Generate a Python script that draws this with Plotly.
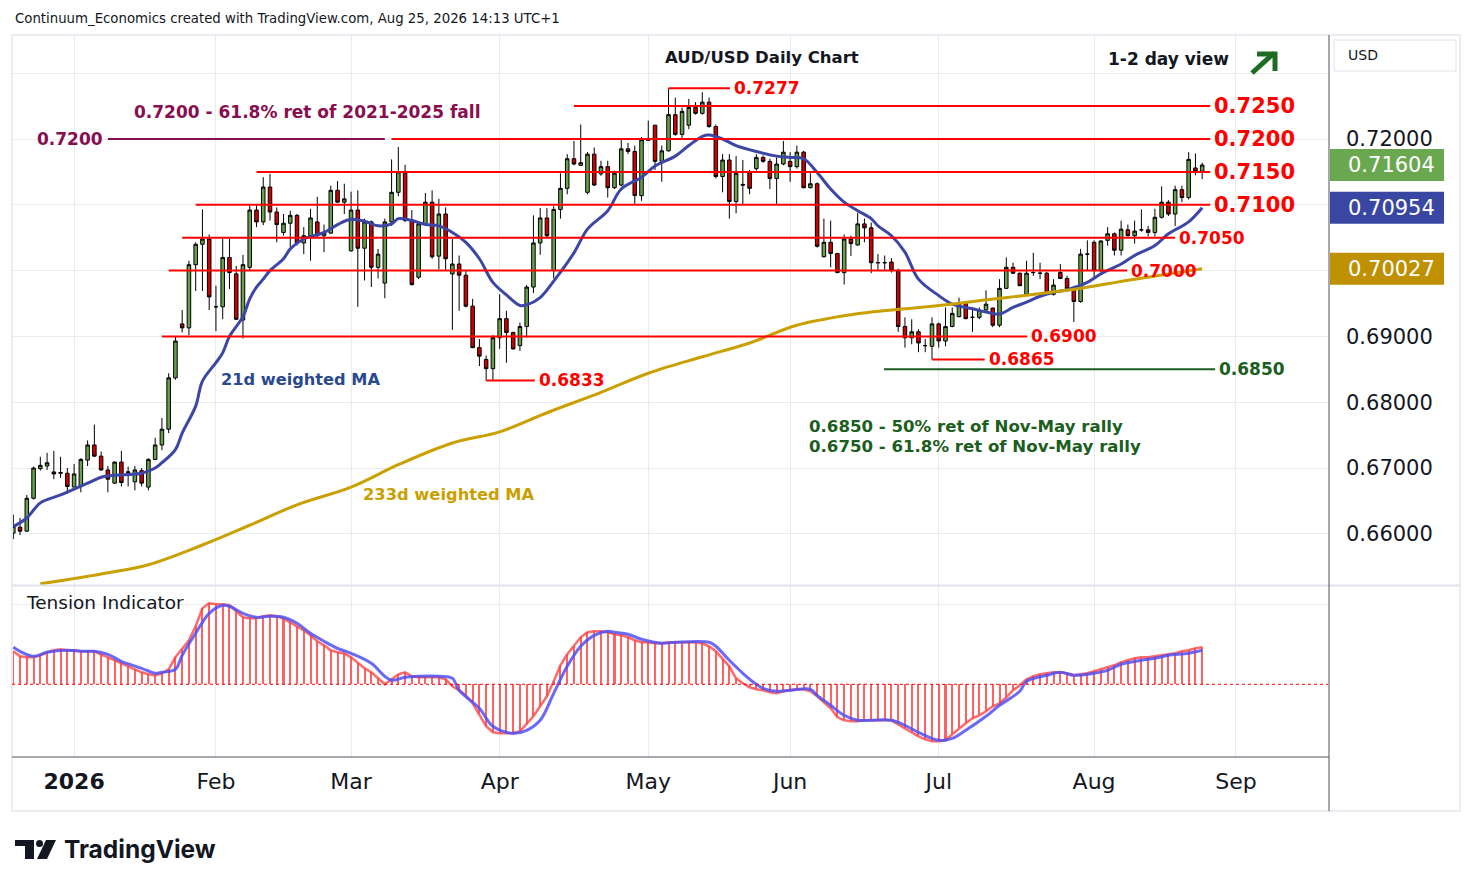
import numpy as np
import pandas as pd
import plotly.graph_objects as go

# page has an 8px body margin; figure is sized to fit the window
OFF = 8
W, H = 1474 - 2 * OFF, 887 - 2 * OFF

# ---------------- data ----------------
holidays = ["2025-12-25", "2026-01-01"]
all_days = [d for d in pd.bdate_range("2025-12-18", "2026-09-30") if d.strftime("%Y-%m-%d") not in holidays]
dates = [d for d in all_days if d <= pd.Timestamp("2026-08-25")]

open_ = [.6601,.6610,.6604,.6654,.6699,.6703,.6694,.6692,.6692,.6671,
         .6672,.6712,.6735,.6718,.6697,.6677,.6709,.6693,.6679,.6696,
         .6671,.6713,.6735,.6759,.6837,.6919,.6913,.7009,.7040,.7048,
         .6945,.6945,.7020,.6995,.6925,.7005,.7092,.7074,.7127,.7089,
         .7058,.7072,.7084,.7042,.7053,.7074,.7053,.7057,.7122,.7104,
         .7030,.7092,.7034,.7074,.7005,.6981,.7074,.7119,.7150,.7077,
         .6990,.7071,.7104,.7022,.7086,.6995,.7010,.6993,.6946,.6883,
         .6865,.6851,.6898,.6927,.6906,.6886,.6915,.6975,.7042,.7080,
         .7000,.7093,.7125,.7170,.7160,.7119,.7177,.7147,.7158,.7126,
         .7130,.7185,.7181,.7114,.7198,.7221,.7166,.7182,.7237,.7207,
         .7221,.7248,.7239,.7256,.7219,.7143,.7168,.7105,.7131,.7149,
         .7155,.7172,.7166,.7140,.7162,.7166,.7158,.7180,.7126,.7132,
         .7021,.7043,.7026,.6997,.7048,.7039,.7071,.7065,.7012,.7012,
         .7013,.7000,.6915,.6898,.6907,.6886,.6885,.6919,.6893,.6915,
         .6930,.6950,.6929,.6929,.6940,.6943,.6917,.6973,.7005,.6996,
         .6964,.6997,.6996,.6996,.6964,.6997,.6988,.6973,.6953,.7025,
         .7043,.7000,.7046,.7056,.7031,.7062,.7053,.7062,.7062,.7058,
         .7081,.7104,.7086,.7123,.7111,.7156,.7151]
high = [.6629,.6624,.6659,.6702,.6717,.6723,.6726,.6717,.6700,.6706,
        .6715,.6742,.6766,.6725,.6703,.6710,.6726,.6702,.6703,.6700,
        .6715,.6746,.6776,.6844,.6899,.6940,.7015,.7043,.7093,.7055,
        .6977,.7048,.7048,.7007,.7024,.7099,.7099,.7142,.7147,.7096,
        .7086,.7091,.7086,.7066,.7094,.7112,.7070,.7129,.7136,.7132,
        .7120,.7122,.7079,.7076,.7033,.7079,.7169,.7188,.7161,.7092,
        .7074,.7118,.7122,.7109,.7096,.7048,.7023,.7000,.6957,.6896,
        .6871,.6902,.6964,.6939,.6907,.6921,.6978,.7084,.7095,.7095,
        .7098,.7148,.7177,.7197,.7222,.7180,.7187,.7167,.7167,.7152,
        .7199,.7194,.7190,.7203,.7228,.7221,.7190,.7277,.7263,.7248,
        .7261,.7256,.7271,.7263,.7222,.7177,.7177,.7174,.7168,.7153,
        .7177,.7175,.7170,.7172,.7197,.7180,.7190,.7182,.7148,.7134,
        .7079,.7076,.7027,.7055,.7053,.7088,.7079,.7073,.7025,.7023,
        .7019,.7003,.6929,.6926,.6911,.6896,.6929,.6921,.6944,.6944,
        .6959,.6954,.6944,.6944,.6970,.6944,.6987,.7020,.7012,.6997,
        .7015,.7027,.7012,.6998,.6987,.7010,.6992,.6977,.7033,.7046,
        .7046,.7046,.7066,.7058,.7076,.7070,.7076,.7093,.7068,.7094,
        .7128,.7107,.7129,.7129,.7180,.7178,.7164]
low = [.6592,.6598,.6603,.6652,.6696,.6697,.6683,.6685,.6661,.6671,
       .6663,.6703,.6717,.6696,.6663,.6676,.6672,.6672,.6666,.6672,
       .6666,.6712,.6727,.6753,.6834,.6906,.6902,.6969,.6969,.6940,
       .6908,.6926,.6972,.6925,.6897,.7000,.7066,.7069,.7076,.7043,
       .7053,.7036,.7038,.7025,.7015,.7051,.7028,.7056,.7103,.7086,
       .7029,.6945,.6985,.6975,.6988,.6958,.7068,.7113,.7074,.6977,
       .6987,.7068,.7018,.7002,.7000,.6910,.6939,.6944,.6882,.6855,
       .6833,.6834,.6881,.6860,.6880,.6878,.6898,.6966,.7024,.7051,
       .6988,.7079,.7116,.7160,.7159,.7116,.7129,.7144,.7111,.7124,
       .7128,.7177,.7101,.7106,.7197,.7153,.7135,.7181,.7205,.7201,
       .7215,.7237,.7237,.7217,.7140,.7119,.7079,.7087,.7101,.7116,
       .7152,.7164,.7124,.7101,.7160,.7135,.7155,.7125,.7125,.7035,
       .7020,.7005,.6996,.6979,.7022,.7038,.7043,.6996,.7000,.7000,
       .6997,.6907,.6883,.6888,.6876,.6876,.6865,.6883,.6885,.6914,
       .6929,.6926,.6907,.6926,.6939,.6914,.6914,.6972,.6995,.6977,
       .6963,.6992,.6987,.6963,.6962,.6987,.6968,.6922,.6951,.7000,
       .6987,.6997,.7038,.7023,.7023,.7052,.7041,.7059,.7052,.7052,
       .7079,.7083,.7068,.7104,.7108,.7145,.7139]
close = [.6611,.6604,.6654,.6700,.6704,.6708,.6691,.6693,.6672,.6691,
         .6713,.6735,.6718,.6697,.6683,.6709,.6678,.6694,.6697,.6677,
         .6713,.6735,.6759,.6837,.6893,.6913,.7009,.7040,.7048,.6960,
         .6945,.7020,.6997,.6926,.7009,.7092,.7074,.7127,.7089,.7070,
         .7072,.7084,.7042,.7053,.7080,.7053,.7057,.7122,.7104,.7109,
         .7092,.7034,.7074,.7005,.7025,.7074,.7119,.7150,.7076,.6979,
         .7071,.7104,.7021,.7086,.7018,.7010,.6993,.6946,.6883,.6870,
         .6851,.6898,.6927,.6906,.6881,.6915,.6975,.7042,.7080,.7053,
         .7093,.7125,.7170,.7162,.7164,.7177,.7130,.7158,.7126,.7148,
         .7185,.7181,.7114,.7199,.7199,.7166,.7182,.7237,.7207,.7242,
         .7248,.7239,.7256,.7219,.7143,.7168,.7105,.7148,.7130,.7125,
         .7172,.7166,.7140,.7162,.7180,.7158,.7180,.7126,.7132,.7037,
         .7043,.7026,.6997,.7048,.7041,.7071,.7065,.7012,.7012,.7012,
         .7000,.6915,.6898,.6907,.6890,.6886,.6919,.6893,.6915,.6935,
         .6950,.6927,.6929,.6940,.6949,.6917,.6973,.7005,.6996,.6977,
         .6996,.6997,.6996,.6964,.6978,.6988,.6973,.6953,.7025,.7025,
         .7000,.7045,.7056,.7031,.7063,.7053,.7060,.7062,.7058,.7081,
         .7104,.7086,.7123,.7111,.7169,.7151,.71604]

# 21d weighted MA (bar index, value)
ma21_idx = [0,2,4,7,9,11,13,14,17,19,21,22,24,25,27,28,30,31,32,34,35,36,37,38,40,41,43,46,48,50,
            52,54,56,57,59,61,63,65,67,69,71,73,75,76,78,80,83,85,88,90,93,95,98,100,102,103,105,107,
            110,113,115,117,119,121,123,125,127,128,130,132,134,137,139,142,144,146,148,150,152,154,
            156,159,161,164,166,169,171,174,176]
ma21_val = [.6611,.6624,.6647,.6659,.6668,.6677,.6686,.6688,.6690,.6692,.6700,.6708,.6728,.6753,.6794,
            .6832,.6860,.6875,.6900,.6930,.6957,.6975,.6987,.7000,.7018,.7033,.7048,.7058,.7070,.7078,
            .7075,.7068,.7071,.7079,.7076,.7070,.7068,.7058,.7043,.7018,.6982,.6963,.6947,.6948,.6959,
            .6984,.7027,.7063,.7091,.7124,.7142,.7159,.7174,.7190,.7204,.7206,.7200,.7190,.7181,.7174,
            .7172,.7170,.7149,.7124,.7104,.7091,.7079,.7068,.7053,.7028,.6987,.6962,.6949,.6942,.6937,
            .6934,.6944,.6952,.6961,.6967,.6971,.6982,.6995,.7010,.7023,.7038,.7056,.7074,.70954]

# 233d weighted MA
ma233_idx = [4,13,20,28,35,42,50,57,65,72,79,87,94,102,109,116,124,127,137,146,156,166,176]
ma233_val = [.6524,.6539,.6553,.6583,.6613,.6644,.6671,.6705,.6738,.6755,.6784,.6815,.6844,.6869,
             .6890,.6917,.6933,.6937,.6947,.6958,.6970,.6987,.70027]

# Tension indicator (per bar) and its signal line
tension = [33,28,27,27,29,32,34,35,34,34,
           33,33,33,30,27,24,21,18,15,12,
           10,9,11,15,27,35,44,58,76,81,
           80,80,79,73,67,66,66,68,69,68,
           66,62,58,54,49,43,39,34,32,31,
           27,21,16,12,6,0,5,10,12,8,
           7,7,7,7,5,-2,-6,-11,-19,-30,
           -42,-48,-49,-49,-49,-47,-40,-32,-22,-12,
           3,19,30,38,47,52,53,53,52,50,
           49,47,44,42,42,41,41,42,42,42,
           42,42,41,38,33,25,18,6,1,-3,
           -5,-6,-8,-9,-7,-6,-5,-5,-7,-12,
           -18,-24,-33,-36,-37,-37,-36,-36,-36,-36,
           -36,-40,-44,-48,-52,-55,-57,-57,-56,-50,
           -44,-39,-34,-31,-27,-22,-19,-13,-6,-1,
           5,8,10,11,12,12,11,9,10,11,
           13,15,17,19,22,24,26,27,27,28,
           29,30,31,33,34,36,37]
sig_idx = [0,1,3,5,8,10,12,14,16,19,21,22,24,25,27,29,31,32,34,36,38,40,42,44,46,48,50,53,55,56,58,
           60,63,65,66,69,71,74,76,78,80,82,84,86,88,89,91,93,96,98,103,104,106,108,110,111,113,115,
           118,119,121,123,125,127,130,132,134,137,139,141,144,146,149,150,153,155,157,160,162,164,
           167,169,171,174,176]
sig_val = [37,33,28,32,34,33,33,30,23,16,11,12,15,29,51,71,79,78,71,67,68,67,61,51,43,36,31,21,8,4,7,
           8,8,6,-6,-24,-42,-49,-46,-36,-9,18,38,49,53,52,50,45,41,42,42,38,24,11,0,-4,-7,-6,
           -5,-11,-21,-31,-36,-36,-36,-41,-48,-56,-54,-46,-32,-21,-7,3,9,12,9,11,14,20,
           24,26,29,31,34]

# horizontal levels
lvl_val   = [0.7277, 0.7250, 0.7200, 0.7150, 0.7100, 0.7050, 0.7000, 0.6900, 0.6865, 0.6833]
lvl_start = [97, 83, 56, 36, 27, 25, 23, 22, 136, 70]
lvl_end   = [106.1, 177.2, 177.2, 177.2, 177.2, 172.0, 164.9, 150.1, 143.8, 77.2]
lvl_big   = [False, True, True, True, True, False, False, False, False, False]

y_ticks = [0.66, 0.67, 0.68, 0.69, 0.70, 0.71, 0.72, 0.73]
y_text = ["0.66000", "0.67000", "0.68000", "0.69000", "", "", "0.72000", ""]

month_names = ["<b>2026</b>", "Feb", "Mar", "Apr", "May", "Jun", "Jul", "Aug", "Sep"]

# ---------------- helpers ----------------
def X(px):
    return (px - OFF) / W

def Y(py):
    return 1 - (py - OFF) / H

idx = list(range(len(close)))
month_idx = []
for m in range(1, 10):
    for k, d in enumerate(all_days):
        if d.year == 2026 and d.month == m:
            month_idx.append(k)
            break

RED = "#ff0000"
GREEN_C = "#68a04c"
RED_C = "#cc0000"
BLUE = "#3c46a6"
GOLD = "#c9a000"
PURPLE = "#880e4f"
DKGREEN = "#1b5e20"
GRID = "#e6ecf2"
FONT = "DejaVu Sans"

fig = go.Figure()
fig.add_trace(go.Candlestick(
    x=idx, open=open_, high=high, low=low, close=close,
    increasing=dict(fillcolor=GREEN_C, line=dict(color="#000000", width=1)),
    decreasing=dict(fillcolor=RED_C, line=dict(color="#000000", width=1)),
    whiskerwidth=0, xaxis="x", yaxis="y", showlegend=False, hoverinfo="skip"))
fig.add_trace(go.Scatter(x=ma21_idx, y=ma21_val, mode="lines",
                         line=dict(color=BLUE, width=3, shape="spline"), xaxis="x", yaxis="y", hoverinfo="skip"))
fig.add_trace(go.Scatter(x=ma233_idx, y=ma233_val, mode="lines",
                         line=dict(color=GOLD, width=3, shape="spline"), xaxis="x", yaxis="y", hoverinfo="skip"))

fig.add_trace(go.Bar(x=idx, y=tension, width=0.3, marker=dict(color="rgba(255,70,70,0.85)", line=dict(width=0)),
                     xaxis="x2", yaxis="y2", hoverinfo="skip"))
fig.add_trace(go.Scatter(x=idx, y=tension, mode="lines", line=dict(color="rgba(255,70,70,0.8)", width=2.5),
                         xaxis="x2", yaxis="y2", hoverinfo="skip"))
fig.add_trace(go.Scatter(x=sig_idx, y=sig_val, mode="lines", line=dict(color="rgba(80,80,245,0.85)", width=3, shape="spline"),
                         xaxis="x2", yaxis="y2", hoverinfo="skip"))

y_lo = 0.72 - (585 - 139) / 6580
y_hi = 0.72 + (139 - 35) / 6580
t_hi = 684.3 - 586
t_lo = 684.3 - 757
x_lo = (12 - 13.3) / 6.755
x_hi = (1328 - 13.3) / 6.755

shapes = []
annotations = []

# level lines and labels
for v, s, e, big in zip(lvl_val, lvl_start, lvl_end, lvl_big):
    shapes.append(dict(type="line", xref="x", yref="y", x0=s, x1=e, y0=v, y1=v,
                       line=dict(color=RED, width=2)))
    annotations.append(dict(xref="x", yref="y", x=e + 0.3, y=v, text="<b>%.4f</b>" % v, showarrow=False,
                            xanchor="left", yanchor="middle",
                            font=dict(family=FONT, size=21 if big else 17, color=RED)))
# purple 0.7200
shapes.append(dict(type="line", xref="x", yref="y", x0=14, x1=55, y0=0.72, y1=0.72, line=dict(color=PURPLE, width=2)))
annotations.append(dict(xref="x", yref="y", x=13.6, y=0.72, text="<b>0.7200</b>", showarrow=False,
                        xanchor="right", yanchor="middle", font=dict(family=FONT, size=17, color=PURPLE)))
# green 0.6850
shapes.append(dict(type="line", xref="x", yref="y", x0=128.9, x1=177.9, y0=0.685, y1=0.685, line=dict(color=DKGREEN, width=2)))
annotations.append(dict(xref="x", yref="y", x=178.2, y=0.685, text="<b>0.6850</b>", showarrow=False,
                        xanchor="left", yanchor="middle", font=dict(family=FONT, size=17, color=DKGREEN)))

def txt(text, px, py, size, color, xanchor="left", bold=True, family=FONT):
    annotations.append(dict(xref="paper", yref="paper", x=X(px), y=Y(py),
                            text=("<b>%s</b>" % text) if bold else text, showarrow=False,
                            xanchor=xanchor, yanchor="middle", font=dict(family=family, size=size, color=color)))

txt("Continuum_Economics created with TradingView.com, Aug 25, 2026 14:13 UTC+1", 13, 19, 13.3, "#131722", bold=False)
txt("0.7200 - 61.8% ret of 2021-2025 fall", 132, 112, 17, PURPLE)
txt("AUD/USD Daily Chart", 663, 57, 16.5, "#131722")
txt("1-2 day view", 1106, 59, 17, "#131722")
txt("21d weighted MA", 219, 379, 16.2, "#2a4a8f")
txt("233d weighted MA", 361, 494, 16.3, GOLD)
txt("0.6850 - 50% ret of Nov-May rally", 807, 426, 16.6, DKGREEN)
txt("0.6750 - 61.8% ret of Nov-May rally", 807, 446, 16.6, DKGREEN)
txt("Tension Indicator", 24, 602, 18.5, "#131722", bold=False)
txt("USD", 1346, 55, 14, "#131722", bold=False)
txt("TradingView", 62, 849, 24.5, "#131722", family="Inter")

# price badges
for val, col in [(0.71604, "#6aa84f"), (0.70954, "#3a47a2"), (0.70027, "#bf9000")]:
    shapes.append(dict(type="rect", xref="paper", yref="y", x0=X(1330), x1=X(1444), y0=val - 0.00243, y1=val + 0.00243,
                       fillcolor=col, line=dict(width=0), layer="above"))
    annotations.append(dict(xref="paper", yref="y", x=X(1346), y=val, text="%.5f" % val, showarrow=False,
                            xanchor="left", yanchor="middle", font=dict(family=FONT, size=21, color="white")))

# frame and separators
shapes.append(dict(type="rect", xref="paper", yref="paper", x0=X(12), x1=X(1460), y0=Y(811), y1=Y(35),
                   line=dict(color="#e9ecf1", width=2)))
shapes.append(dict(type="line", xref="paper", yref="paper", x0=X(12), x1=X(1460), y0=Y(585.5), y1=Y(585.5),
                   line=dict(color="#e0e3eb", width=2)))
shapes.append(dict(type="line", xref="paper", yref="paper", x0=X(1329), x1=X(1329), y0=Y(811), y1=Y(35),
                   line=dict(color="#50535e", width=1)))
shapes.append(dict(type="line", xref="paper", yref="paper", x0=X(12), x1=X(1329), y0=Y(757), y1=Y(757),
                   line=dict(color="#50535e", width=1)))
# zero line of tension
shapes.append(dict(type="line", xref="paper", yref="y2", x0=X(12), x1=X(1328), y0=0, y1=0,
                   line=dict(color=RED, width=1, dash="dot")))
# USD box
shapes.append(dict(type="rect", xref="paper", yref="paper", x0=X(1334), x1=X(1456), y0=Y(71), y1=Y(40),
                   line=dict(color="#e0e3eb", width=1)))
# view arrow
shapes.append(dict(type="line", xref="paper", yref="paper", x0=X(1252), y0=Y(73), x1=X(1274), y1=Y(53),
                   line=dict(color="#1e6b22", width=5)))
shapes.append(dict(type="path", xref="paper", yref="paper",
                   path="M %f,%f L %f,%f L %f,%f" % (X(1257), Y(54), X(1275), Y(54), X(1275), Y(71)),
                   line=dict(color="#1e6b22", width=5)))
# TradingView logo mark
shapes.append(dict(type="rect", xref="paper", yref="paper", x0=X(15), x1=X(34), y0=Y(846), y1=Y(840),
                   fillcolor="#131722", line=dict(width=0)))
shapes.append(dict(type="rect", xref="paper", yref="paper", x0=X(25), x1=X(34), y0=Y(859), y1=Y(840),
                   fillcolor="#131722", line=dict(width=0)))
shapes.append(dict(type="circle", xref="paper", yref="paper", x0=X(36), x1=X(43), y0=Y(847), y1=Y(840),
                   fillcolor="#131722", line=dict(width=0)))
shapes.append(dict(type="path", xref="paper", yref="paper",
                   path="M %f,%f L %f,%f L %f,%f L %f,%f Z" % (X(46), Y(840), X(56), Y(840), X(47), Y(859), X(37), Y(859)),
                   fillcolor="#131722", line=dict(width=0)))

fig.update_layout(
    width=W, height=H, margin=dict(l=0, r=0, t=0, b=0),
    paper_bgcolor="white", plot_bgcolor="white", showlegend=False, bargap=0, boxgap=0.25,
    xaxis=dict(domain=[X(12), X(1328)], range=[x_lo, x_hi], rangeslider=dict(visible=False),
               tickvals=month_idx, showticklabels=False, showgrid=True, gridcolor=GRID, zeroline=False,
               showline=False, anchor="y", ticks=""),
    yaxis=dict(domain=[Y(585), Y(35)], range=[y_lo, y_hi], side="right", tickvals=y_ticks, ticktext=y_text,
               showgrid=True, gridcolor=GRID, zeroline=False, ticks="", ticklabelstandoff=17,
               tickfont=dict(family=FONT, size=21, color="#131722"), anchor="x"),
    xaxis2=dict(domain=[X(12), X(1328)], range=[x_lo, x_hi], tickvals=month_idx, ticktext=month_names,
                showgrid=True, gridcolor=GRID, zeroline=False, showline=False, anchor="y2", ticks="",
                ticklabelstandoff=9, tickfont=dict(family=FONT, size=22, color="#131722")),
    yaxis2=dict(domain=[Y(757), Y(586)], range=[t_lo, t_hi], side="right", tickvals=[80], showticklabels=False,
                showgrid=True, gridcolor=GRID, zeroline=False, anchor="x2", ticks=""),
    shapes=shapes, annotations=annotations,
)

fig.write_html("out.html")
